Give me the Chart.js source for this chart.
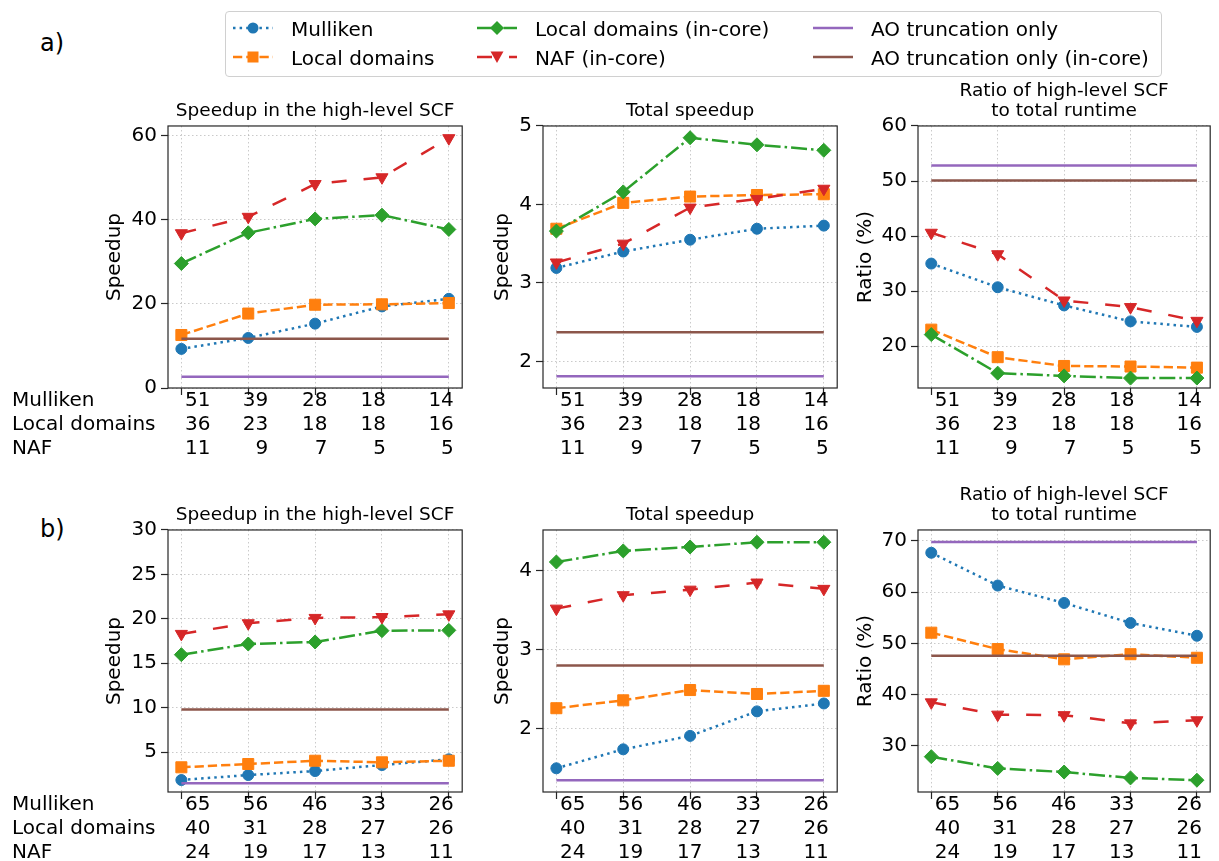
<!DOCTYPE html>
<html>
<head>
<meta charset="utf-8">
<title>Speedup panels</title>
<script src="https://cdn.jsdelivr.net/npm/chart.js@4.4.1/dist/chart.umd.min.js"></script>
<style>
  body { margin: 0; background: #fff; }
  #fig { position: relative; width: 1219px; height: 861px; overflow: hidden; font-family: 'DejaVu Sans', sans-serif; color: #000; }
  #fig canvas { position: absolute; }
  .tag { position: absolute; font-size: 24px; line-height: 29px; }
  .rows { position: absolute; left: 12px; font-size: 20px; line-height: 24px; white-space: nowrap; }
  #legend { position: absolute; left: 225px; top: 11px; width: 935px; height: 64px; border: 1px solid #d0d0d0; border-radius: 4px; background: rgba(255,255,255,0.85); }
  .li { position: absolute; font-size: 20px; line-height: 24px; white-space: nowrap; }
  .lh { position: absolute; }
</style>
</head>
<body>
<div id="fig">
  <canvas id="a1" width="368" height="392" style="left:103px;top:76px"></canvas>
  <canvas id="a2" width="355" height="392" style="left:491px;top:76px"></canvas>
  <canvas id="a3" width="365" height="392" style="left:854px;top:76px"></canvas>
  <canvas id="b1" width="368" height="392" style="left:103px;top:480px"></canvas>
  <canvas id="b2" width="355" height="392" style="left:491px;top:480px"></canvas>
  <canvas id="b3" width="365" height="392" style="left:854px;top:480px"></canvas>

  <div class="tag" style="left:40px;top:29px">a)</div>
  <div class="tag" style="left:40px;top:515px">b)</div>
  <div class="rows" style="top:387px">Mulliken<br>Local domains<br>NAF</div>
  <div class="rows" style="top:791px">Mulliken<br>Local domains<br>NAF</div>
  <div id="legend"></div>
</div>

<script>
var seriesNames = ['Mulliken', 'Local domains', 'Local domains (in-core)', 'NAF (in-core)',
                   'AO truncation only', 'AO truncation only (in-core)'];

// x tick rows (one value per setting)
var mullikenA = ['51', '39', '28', '18', '14'];
var localA    = ['36', '23', '18', '18', '16'];
var nafA      = ['11', '9', '7', '5', '5'];
var mullikenB = ['65', '56', '46', '33', '26'];
var localB    = ['40', '31', '28', '27', '26'];
var nafB      = ['24', '19', '17', '13', '11'];

// a) speedup in the high-level SCF
var aScfMulliken = [9.3, 11.9, 15.3, 19.4, 21.2];
var aScfLocal    = [12.6, 17.7, 19.8, 19.9, 20.2];
var aScfLocalIn  = [29.6, 36.9, 40.2, 41.1, 37.7];
var aScfNaf      = [36.8, 40.7, 48.5, 50.1, 59.4];
var aScfAO       = [2.7, 11.7];

// a) total speedup
var aTotMulliken = [3.19, 3.40, 3.55, 3.69, 3.73];
var aTotLocal    = [3.69, 4.02, 4.10, 4.12, 4.13];
var aTotLocalIn  = [3.66, 4.16, 4.85, 4.76, 4.69];
var aTotNaf      = [3.26, 3.50, 3.96, 4.07, 4.20];
var aTotAO       = [1.81, 2.37];

// a) ratio of high-level SCF to total runtime (%)
var aRatMulliken = [35.0, 30.7, 27.4, 24.5, 23.5];
var aRatLocal    = [23.0, 18.0, 16.4, 16.3, 16.1];
var aRatLocalIn  = [22.1, 15.1, 14.6, 14.2, 14.2];
var aRatNaf      = [40.6, 36.7, 28.3, 27.1, 24.6];
var aRatAO       = [52.8, 50.1];

// b) speedup in the high-level SCF
var bScfMulliken = [1.85, 2.41, 2.86, 3.54, 4.18];
var bScfLocal    = [3.28, 3.65, 4.02, 3.84, 4.02];
var bScfLocalIn  = [15.96, 17.16, 17.39, 18.66, 18.70];
var bScfNaf      = [18.3, 19.5, 20.1, 20.2, 20.5];
var bScfAO       = [1.48, 9.8];

// b) total speedup
var bTotMulliken = [1.50, 1.74, 1.91, 2.22, 2.32];
var bTotLocal    = [2.26, 2.36, 2.49, 2.44, 2.48];
var bTotLocalIn  = [4.11, 4.25, 4.30, 4.36, 4.36];
var bTotNaf      = [3.52, 3.69, 3.76, 3.85, 3.77];
var bTotAO       = [1.35, 2.80];

// b) ratio
var bRatMulliken = [67.7, 61.3, 57.9, 54.0, 51.5];
var bRatLocal    = [52.1, 48.9, 46.9, 47.9, 47.2];
var bRatLocalIn  = [27.9, 25.6, 24.9, 23.75, 23.3];
var bRatNaf      = [38.5, 36.1, 36.0, 34.4, 35.0];
var bRatAO       = [69.8, 47.6];

// y ticks
var ticksAScf = [0, 20, 40, 60];
var ticksATot = [2, 3, 4, 5];
var ticksARat = [20, 30, 40, 50, 60];
var ticksBScf = [5, 10, 15, 20, 25, 30];
var ticksBTot = [2, 3, 4];
var ticksBRat = [30, 40, 50, 60, 70];

var seriesStyles = [
    { color: '#1f77b4', dash: [2.5, 4.1], marker: 'circle', radius: 5.5 },
    { color: '#ff7f0e', dash: [9.25, 4], marker: 'rect', radius: 7.8 },
    { color: '#2ca02c', dash: [16, 4, 2.5, 4], marker: 'rectRot', radius: 7 },
    { color: '#d62728', dash: [15, 17], marker: 'triangle', radius: 7, rotation: 180 },
    { color: '#9467bd', dash: [] },
    { color: '#8c564b', dash: [] }
];

// horizontal shift (px) of each x tick label block, right edge relative to the tick
var xLabelNudge = [29, 20, 12.4, 4, 5];

Chart.defaults.font.family = "'DejaVu Sans', sans-serif";
Chart.defaults.color = '#000';

var gridColor = 'rgba(150,150,150,0.5)';
var spineColor = '#262626';

var frame = {
    id: 'frame',
    afterDatasetsDraw: function (chart) {
        var a = chart.chartArea, c = chart.ctx;
        c.save();
        c.strokeStyle = spineColor;
        c.lineWidth = 1.2;
        c.strokeRect(a.left, a.top, a.right - a.left, a.bottom - a.top);
        c.restore();
    }
};

var nudge = {
    id: 'nudge',
    beforeDraw: function (chart) {
        chart.scales.x.getLabelItems().forEach(function (it, i) {
            if (it.nudged) return;
            it.options.translation[0] += xLabelNudge[i];
            it.nudged = true;
        });
    }
};

function panel(id, title, yTitle, rows, series, ao, yMin, yMax, yTicks, yWidth, padTop, padRight) {
    var idx = rows[0].map(function (r, i) { return i; });

    var datasets = seriesNames.map(function (name, k) {
        var st = seriesStyles[k];
        var data = k < 4
            ? series[k].map(function (v, i) { return { x: i, y: v }; })
            : idx.map(function (i) { return { x: i, y: ao[k - 4] }; });
        return {
            label: name,
            data: data,
            borderColor: st.color,
            backgroundColor: st.color,
            borderWidth: 2.5,
            borderDash: st.dash,
            pointStyle: st.marker || 'circle',
            pointRadius: st.marker ? st.radius : 0,
            pointRotation: st.rotation || 0,
            pointBorderWidth: 1,
            pointBorderColor: st.color,
            pointBackgroundColor: st.color,
            fill: false,
            tension: 0,
            order: 6 - k
        };
    });

    new Chart(document.getElementById(id), {
        type: 'line',
        data: { datasets: datasets },
        plugins: [frame, nudge],
        options: {
            responsive: false,
            animation: false,
            events: [],
            layout: { padding: { top: padTop, right: padRight, left: 0, bottom: 0 } },
            plugins: {
                legend: { display: false },
                tooltip: { enabled: false },
                title: {
                    display: true, text: title, fullSize: false, color: '#000',
                    font: { size: 18.5, weight: 'normal', lineHeight: 1.08 },
                    padding: { top: 0, bottom: 5 }
                }
            },
            scales: {
                x: {
                    type: 'linear', min: -0.2, max: 4.2,
                    afterBuildTicks: function (s) { s.ticks = idx.map(function (i) { return { value: i }; }); },
                    afterFit: function (s) { s.height = 80; },
                    ticks: {
                        align: 'end', labelOffset: 0, padding: -6, autoSkip: false, maxRotation: 0,
                        font: { size: 20, lineHeight: 1.2 },
                        callback: function (v, i) { return rows.map(function (r) { return r[i]; }); }
                    },
                    grid: { color: gridColor, lineWidth: 1, tickLength: 7, tickColor: spineColor, tickWidth: 1.2 },
                    border: { display: false, dash: [1.5, 2.5] }
                },
                y: {
                    min: yMin, max: yMax,
                    afterBuildTicks: function (s) { s.ticks = yTicks.map(function (v) { return { value: v }; }); },
                    afterFit: function (s) { s.width = yWidth; },
                    ticks: { padding: 4, font: { size: 20 }, callback: function (v) { return String(v); } },
                    title: { display: true, text: yTitle, font: { size: 20 }, padding: 0 },
                    grid: { color: gridColor, lineWidth: 1, tickLength: 7, tickColor: spineColor, tickWidth: 1.2 },
                    border: { display: false, dash: [1.5, 2.5] }
                }
            }
        }
    });
}

var rowsA = [mullikenA, localA, nafA];
var rowsB = [mullikenB, localB, nafB];
var scfTitle = 'Speedup in the high-level SCF';
var totTitle = 'Total speedup';
var ratTitle = ['Ratio of high-level SCF', 'to total runtime'];

panel('a1', scfTitle, 'Speedup', rowsA, [aScfMulliken, aScfLocal, aScfLocalIn, aScfNaf], aScfAO, 0, 62.3, ticksAScf, 65, 25, 2);
panel('a2', totTitle, 'Speedup', rowsA, [aTotMulliken, aTotLocal, aTotLocalIn, aTotNaf], aTotAO, 1.66, 5.0, ticksATot, 52, 25, 2);
panel('a3', ratTitle, 'Ratio (%)', rowsA, [aRatMulliken, aRatLocal, aRatLocalIn, aRatNaf], aRatAO, 12.4, 60, ticksARat, 64, 5, 1);
panel('b1', scfTitle, 'Speedup', rowsB, [bScfMulliken, bScfLocal, bScfLocalIn, bScfNaf], bScfAO, 0.5, 30, ticksBScf, 65, 25, 2);
panel('b2', totTitle, 'Speedup', rowsB, [bTotMulliken, bTotLocal, bTotLocalIn, bTotNaf], bTotAO, 1.2, 4.515, ticksBTot, 52, 25, 2);
panel('b3', ratTitle, 'Ratio (%)', rowsB, [bRatMulliken, bRatLocal, bRatLocalIn, bRatNaf], bRatAO, 21.0, 72.15, ticksBRat, 64, 5, 1);

// legend (three columns, two rows)
function handleSvg(st) {
    var c = st.color;
    var s = '<svg width="40" height="20" viewBox="0 0 40 20">';
    s += '<line x1="0" y1="10" x2="40" y2="10" stroke="' + c + '" stroke-width="2.5" stroke-dasharray="' +
         (st.dash.length ? st.dash.join(' ') : 'none') + '"/>';
    if (st.marker === 'circle') s += '<circle cx="20" cy="10" r="5.5" fill="' + c + '"/>';
    if (st.marker === 'rect') s += '<rect x="14.5" y="4.5" width="11" height="11" fill="' + c + '"/>';
    if (st.marker === 'rectRot') s += '<polygon points="20,3 27,10 20,17 13,10" fill="' + c + '"/>';
    if (st.marker === 'triangle') s += '<polygon points="13.5,4.5 26.5,4.5 20,16" fill="' + c + '"/>';
    return s + '</svg>';
}

var legendCols = [233, 477, 813];
var legendRows = [28.3, 57.3];
var html = '';
seriesNames.forEach(function (name, k) {
    var cx = legendCols[Math.floor(k / 2)] - 225;
    var cy = legendRows[k % 2] - 11;
    html += '<div class="lh" style="left:' + (cx - 1) + 'px;top:' + (cy - 11) + 'px">' + handleSvg(seriesStyles[k]) + '</div>';
    html += '<div class="li" style="left:' + (cx + 57) + 'px;top:' + (cy - 12.6) + 'px">' + name + '</div>';
});
document.getElementById('legend').innerHTML = html;
</script>
</body>
</html>
